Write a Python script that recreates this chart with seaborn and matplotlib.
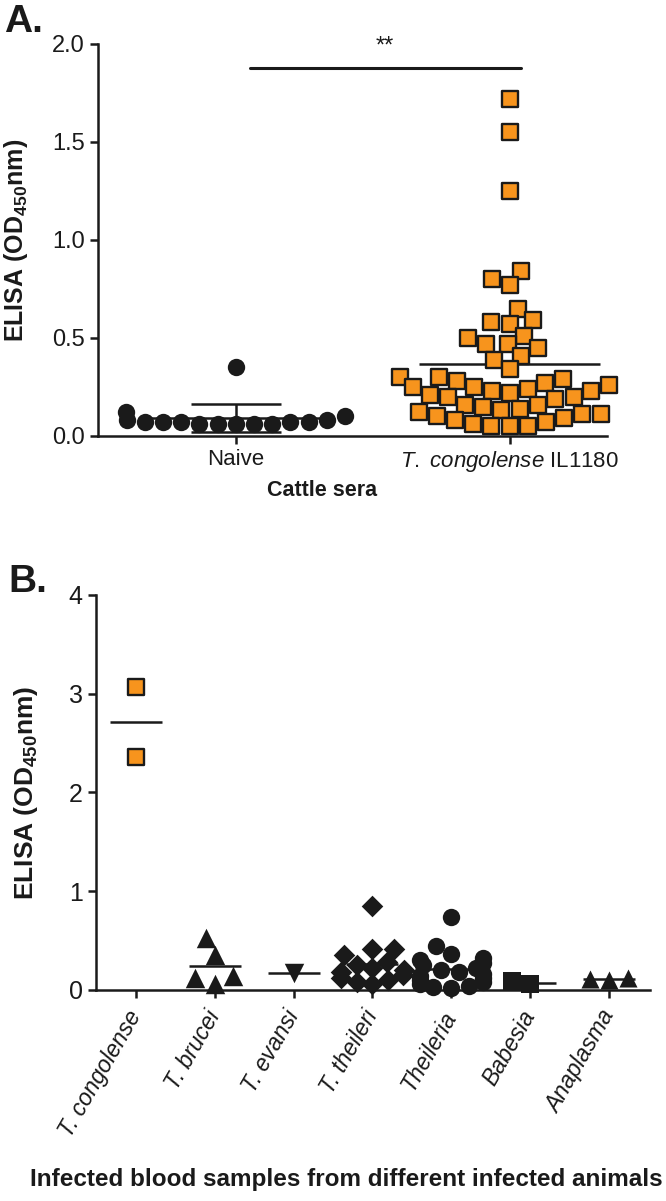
import matplotlib
matplotlib.use('Agg')
import matplotlib.pyplot as plt
import seaborn as sns
import pandas as pd
import numpy as np

sns.set_theme(style='ticks')
plt.rcParams['font.family'] = ['Liberation Sans', 'DejaVu Sans']
plt.rcParams['mathtext.fontset'] = 'custom'
plt.rcParams['mathtext.rm'] = 'Liberation Sans'
plt.rcParams['mathtext.it'] = 'Liberation Sans:italic'
plt.rcParams['mathtext.bf'] = 'Liberation Sans:bold'

orange = '#F7941D'
ink = '#1a1a1a'

# ---- Panel A: cattle sera ----
groups_a = ['Naive', 'T. congolense IL1180']
naive_od = [0.35, 0.12, 0.10, 0.08, 0.08, 0.07, 0.07, 0.07, 0.07, 0.07,
            0.06, 0.06, 0.06, 0.06, 0.06]
congolense_od = [1.72, 1.55, 1.25, 0.84, 0.80, 0.77, 0.65, 0.59, 0.58, 0.57,
                 0.51, 0.50, 0.47, 0.47, 0.45, 0.41, 0.39, 0.34,
                 0.30, 0.30, 0.29, 0.28, 0.27, 0.26, 0.25, 0.25, 0.24, 0.23,
                 0.23, 0.22, 0.21, 0.20, 0.20, 0.19,
                 0.16, 0.16, 0.15, 0.14, 0.13, 0.12, 0.11, 0.11, 0.10, 0.09,
                 0.08, 0.07, 0.06, 0.05, 0.05, 0.05]

# ---- Panel B: infected blood samples ----
species_b = ['T. congolense', 'T. brucei', 'T. evansi', 'T. theileri',
             'Theileria', 'Babesia', 'Anaplasma']
b_congolense = [3.07, 2.36]
b_brucei = [0.53, 0.35, 0.14, 0.06, 0.12]
b_evansi = [0.17]
b_theileri = [0.85, 0.42, 0.41, 0.35, 0.28, 0.25, 0.22, 0.20, 0.18, 0.15,
              0.12, 0.10, 0.08, 0.06]
b_theileria = [0.74, 0.45, 0.36, 0.32, 0.30, 0.27, 0.25, 0.22, 0.20, 0.18,
               0.16, 0.14, 0.12, 0.10, 0.08, 0.06, 0.04, 0.03, 0.02]
b_babesia = [0.06, 0.09]
b_anaplasma = [0.10, 0.12, 0.11]
b_values = [b_congolense, b_brucei, b_evansi, b_theileri, b_theileria,
            b_babesia, b_anaplasma]
b_markers = ['s', '^', 'v', 'D', 'o', 's', '^']
b_sizes = [12, 14, 14, 11, 12.5, 12.5, 13]

df_a = pd.DataFrame({'group': ['Naive'] * len(naive_od) + ['T. congolense IL1180'] * len(congolense_od),
                     'od': naive_od + congolense_od})
df_b = pd.DataFrame({'species': np.repeat(species_b, [len(v) for v in b_values]),
                     'od': np.concatenate(b_values)})

fig = plt.figure(figsize=(6.66, 12.01), dpi=100)
axA = fig.add_axes([0.147, 0.637, 0.764, 0.3264])
axB = fig.add_axes([0.144, 0.1757, 0.832, 0.3289])

# Panel A points
sns.swarmplot(data=df_a[df_a.group == 'Naive'], x='group', y='od', order=groups_a,
              ax=axA, marker='o', color=ink, size=12.5, linewidth=0,
              clip_on=False, zorder=3)
sns.swarmplot(data=df_a[df_a.group != 'Naive'], x='group', y='od', order=groups_a,
              ax=axA, marker='s', color=orange, edgecolor=ink, size=11,
              linewidth=1.7, clip_on=False, zorder=3)

means_a = df_a.groupby('group')['od'].mean()
for i, g in enumerate(groups_a):
    axA.hlines(means_a[g], i - 0.33, i + 0.33, color=ink, lw=1.8, zorder=2)
sd_naive = np.std(naive_od, ddof=1)
m_naive = means_a['Naive']
axA.vlines(0, m_naive - sd_naive, m_naive + sd_naive, color=ink, lw=1.8, zorder=2)
axA.hlines([m_naive - sd_naive, m_naive + sd_naive], -0.165, 0.165, color=ink, lw=1.8, zorder=2)

axA.plot([0.05, 1.04], [1.877, 1.877], color=ink, lw=2.2, clip_on=False)
axA.text(0.545, 1.985, '**', ha='center', va='center', fontsize=17, color=ink)

axA.set_xlim(-0.504, 1.354)
axA.set_ylim(0, 2)
axA.set_yticks([0, 0.5, 1.0, 1.5, 2.0])
axA.set_yticklabels(['0.0', '0.5', '1.0', '1.5', '2.0'])
axA.set_xticks([0, 1])
axA.set_xticklabels(['Naive', r'$\it{T.\ congolense}$ IL1180'])
axA.set_xlabel('Cattle sera', fontsize=15.5, fontweight='bold', color=ink)
axA.xaxis.set_label_coords(0.44, -0.112)
axA.set_ylabel(r'ELISA (OD$_{\mathbf{450}}$nm)', fontsize=18, fontweight='bold', color=ink)
axA.yaxis.set_label_coords(-0.134, 0.5)
axA.tick_params(axis='y', labelsize=17, length=6, width=1.8, colors=ink)
axA.tick_params(axis='x', labelsize=16, length=6, width=1.8, colors=ink)

# Panel B points
for i, sp in enumerate(species_b):
    sub = df_b[df_b.species == sp]
    if i == 0:
        sns.swarmplot(data=sub, x='species', y='od', order=species_b, ax=axB,
                      marker='s', color=orange, edgecolor=ink, size=b_sizes[i],
                      linewidth=1.7, clip_on=False, zorder=3)
    else:
        sns.swarmplot(data=sub, x='species', y='od', order=species_b, ax=axB,
                      marker=b_markers[i], color=ink, size=b_sizes[i],
                      linewidth=0, clip_on=False, zorder=3)

means_b = df_b.groupby('species')['od'].mean()
for i, sp in enumerate(species_b):
    axB.hlines(means_b[sp], i - 0.33, i + 0.33, color=ink, lw=1.8, zorder=2)

axB.set_xlim(-0.506, 6.52)
axB.set_ylim(0, 4)
axB.set_yticks([0, 1, 2, 3, 4])
axB.set_xticks(range(len(species_b)))
axB.set_xticklabels(species_b, rotation=60, ha='right', va='center',
                    rotation_mode='anchor', style='italic')
axB.set_xlabel('Infected blood samples from different infected animals',
               fontsize=17.5, fontweight='bold', color=ink)
axB.xaxis.set_label_coords(0.452, -0.45)
axB.set_ylabel(r'ELISA (OD$_{\mathbf{450}}$nm)', fontsize=19, fontweight='bold', color=ink)
axB.yaxis.set_label_coords(-0.101, 0.5)
axB.tick_params(axis='y', labelsize=18, length=6, width=1.8, colors=ink)
axB.tick_params(axis='x', labelsize=16.5, length=6, width=1.8, colors=ink, pad=10)

for ax in (axA, axB):
    sns.despine(ax=ax)
    for s in ('left', 'bottom'):
        ax.spines[s].set_linewidth(1.8)
        ax.spines[s].set_color(ink)

fig.text(0.006, 0.997, 'A.', fontsize=28, fontweight='bold', va='top', color=ink)
fig.text(0.012, 0.530, 'B.', fontsize=28, fontweight='bold', va='top', color=ink)

fig.savefig('out.png', dpi=100)
